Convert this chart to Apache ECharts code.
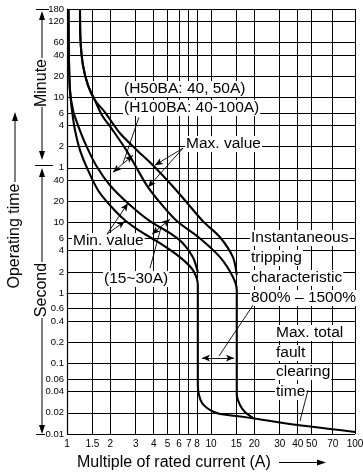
<!DOCTYPE html>
<html><head><meta charset="utf-8">
<script src="https://cdn.jsdelivr.net/npm/echarts@6/dist/echarts.min.js"></script>
<style>html,body{margin:0;padding:0;background:#fff}#c{width:363px;height:474px}</style>
</head><body><div id="c"></div>
<script>
// ---- data ----
const xTickValues = [1,1.5,2,3,4,5,6,7,8,10,15,20,30,40,50,70,100];
const xTickLabels = ['1','1.5','2','3','4','5','6','7','8','10','15','20','30','40','50','70','100'];
const yTickSeconds = [0.01,0.02,0.04,0.06,0.1,0.2,0.4,0.6,1,2,4,6,10,20,40,60,120,240,360,600,1200,2400,3600,7200,10800];
const yTickLabels = ['0.01','0.02','0.04','0.06','0.1','0.2','0.4','0.6','1','2','4','6','10','20','40','1','2','4','6','10','20','40','60','120','180'];

// [multiple of rated current, seconds]
const minCurveA = [[1.024,10800],[1.032,2018],[1.049,757],[1.083,394],[1.137,205],[1.231,107],[1.399,55.6],[1.642,28.9],[1.988,17.7],[2.528,10.8],[3.214,7.57],[4.42,5.12],[6.08,3.24],[7.49,2.12],[8.1,1.3]];
const minCurveB = [[1.024,10800],[1.032,2018],[1.049,757],[1.101,394],[1.192,241],[1.355,126],[1.589,65.5],[1.988,34],[2.651,18.9],[3.768,10.5],[5.19,7.1],[6.38,5.12],[7.49,3.24],[8.1,1.99]];
const maxCurveA = [[1.231,10800],[1.241,3880],[1.291,1714],[1.399,891],[1.564,547],[1.75,335],[2.08,205],[2.58,107],[3.1,56],[3.65,31.9],[4.52,18.3],[5.81,10.5],[8.2,6.22],[11.55,3.24],[14.2,1.69],[15.1,1.1]];
const maxCurveB = [[1.231,10800],[1.241,3880],[1.291,1714],[1.399,891],[1.564,547],[1.836,369],[2.334,186],[3.06,107],[3.95,65.5],[5.19,36.3],[6.59,20.8],[8.79,10.5],[11.55,6.22],[14.2,3.24],[15.1,1.8]];
const minTrip = [[8.1,1.99],[8.1,0.05],[8.25,0.0357],[8.66,0.0275],[9.39,0.0234],[10.47,0.0205],[11.55,0.0192]];
const maxTrip = [[15.1,1.8],[15.1,0.0357],[15.9,0.0258],[17.2,0.0205],[19.6,0.0169]];
const clearingTime = [[11.55,0.0192],[20,0.0166],[40,0.0134],[100,0.0107]];

// ---- annotations (data space) : [from, to, arrowAtStart, arrowAtEnd] ----
const annotations = [
  [[3.16,313],[2.45,69.8],false,false],
  [[2.086,52.0],[2.873,90.6],true,true],
  [[6.39,114],[4.08,65.5],false,true],
  [[6.39,114],[3.65,31.9],false,true],
  [[1.896,6.87],[2.528,10.5],false,true],
  [[1.896,6.87],[2.651,18.9],false,true],
  [[3.77,2.26],[4.50,8.63],false,false],
  [[3.89,6.87],[5.19,11.2],true,true],
  [[19.6,0.676],[11.36,0.128],false,false],
  [[8.66,0.1197],[14.44,0.1197],true,true],
  [[47.2,0.0421],[41.5,0.0153],false,false]
];

const L = Math.log10;
const toLog = arr => arr.map(p => [L(p[0]), L(p[1])]);
const FONT = "'Liberation Sans', Arial, Helvetica, sans-serif";

function curve(name, data) {
  return {type:'line', name, data: toLog(data), showSymbol:false, symbol:'none', smooth:0.3,
    lineStyle:{color:'#000', width:2.1}, z:3, silent:true, animation:false};
}

const texts = [
  ['(H50BA: 40, 50A)', 123, 89],
  ['(H100BA: 40-100A)', 123, 108],
  ['Max. value', 185, 144],
  ['Min. value', 72, 241],
  ['(15~30A)', 103, 279],
  ['Instantaneous', 250, 238], ['tripping', 250, 258], ['characteristic', 250, 278], ['800% \u2013 1500%', 250, 298],
  ['Max. total', 275, 333], ['fault', 275, 353], ['clearing', 275, 372], ['time', 275, 392]
];

function head(x, y, dir) {
  const w = 3, h = 9;
  let pts;
  if (dir === 'up') pts = [[x,y],[x-w,y+h],[x+w,y+h]];
  else if (dir === 'down') pts = [[x,y],[x-w,y-h],[x+w,y-h]];
  else pts = [[x,y],[x-h,y-w],[x-h,y+w]];
  return {type:'polygon', shape:{points:pts}, style:{fill:'#000'}, z:5, silent:true};
}
function seg(x1,y1,x2,y2,w) {
  return {type:'line', shape:{x1,y1,x2,y2}, style:{stroke:'#000', lineWidth:w||1}, z:5, silent:true};
}
function vtext(t, x, y) {
  return {type:'text', x, y, rotation:Math.PI/2, z:5, silent:true,
    style:{text:t, font:'16px ' + FONT, fill:'#000', align:'center', verticalAlign:'middle', textAlign:'center', textVerticalAlign:'middle'}};
}

const graphics = [];
texts.forEach(t => graphics.push({type:'text', x:t[1], y:t[2], z:1, silent:true,
  style:{text:t[0], font:'15.5px ' + FONT, fill:'#000', align:'left', verticalAlign:'middle',
    textAlign:'left', textVerticalAlign:'middle', backgroundColor:'#fff', padding:[0,1]}}));
// brackets
graphics.push(seg(36,9.5,49,9.5), seg(35,165.5,53,165.5), seg(36,434.5,45,434.5));
graphics.push(seg(42,18,42,58), head(42,11,'up'), vtext('Minute',42,83), seg(42,107,42,152), head(42,160,'down'));
graphics.push(seg(42,176,42,262), head(42,168,'up'), vtext('Second',42,290), seg(42,318,42,426), head(42,434,'down'));
graphics.push(seg(15,120,15,182), head(15,112,'up'), vtext('Operating time',15,236));
graphics.push({type:'text', x:77, y:463, z:5, silent:true, style:{text:'Multiple of rated current (A)', font:'16px ' + FONT, fill:'#000', align:'left', verticalAlign:'middle', textAlign:'left', textVerticalAlign:'middle'}});
graphics.push(seg(279,462.5,318,462.5), head(326,462.5,'right'));

const chart = echarts.init(document.getElementById('c'), null, {renderer:'canvas', width:363, height:474});
const option = {
  animation:false,
  backgroundColor:'#fff',
  grid:{left:67, right:8, top:9, bottom:40, containLabel:false, outerBoundsMode:'none'},
  xAxis:{type:'value', min:0, max:2,
    axisLine:{show:true, lineStyle:{color:'#000', width:1.2}},
    axisTick:{show:false, customValues: xTickValues.map(L)},
    splitLine:{show:true, lineStyle:{color:'#000', width:1}},
    axisLabel:{customValues: xTickValues.map(L), margin:5, fontSize:10, fontFamily:FONT, color:'#000', hideOverlap:false, showMinLabel:true, showMaxLabel:true,
      formatter: v => { const i = xTickValues.findIndex(s => Math.abs(L(s)-v) < 1e-6); return i >= 0 ? xTickLabels[i] : ''; }}
  },
  yAxis:{type:'value', min:-2, max:L(10800),
    axisLine:{show:true, lineStyle:{color:'#000', width:1.2}},
    axisTick:{show:false, customValues: yTickSeconds.map(L)},
    splitLine:{show:true, lineStyle:{color:'#000', width:1}},
    axisLabel:{customValues: yTickSeconds.map(L), margin:3, fontSize:9.5, fontFamily:FONT, color:'#000', hideOverlap:false, showMinLabel:true, showMaxLabel:true,
      formatter: v => { const i = yTickSeconds.findIndex(s => Math.abs(L(s)-v) < 1e-6); return i >= 0 ? yTickLabels[i] : ''; }}
  },
  series:[
    curve('minCurveA', minCurveA.concat(minTrip.slice(1))),
    curve('minCurveB', minCurveB),
    curve('maxCurveA', maxCurveA.concat(maxTrip.slice(1))),
    curve('maxCurveB', maxCurveB),
    Object.assign(curve('clearingTime', clearingTime), {
      markLine:{silent:true, animation:false, symbolSize:[5,8], label:{show:false}, emphasis:{disabled:true},
        lineStyle:{color:'#000', width:0.9, type:'solid'},
        data: annotations.map(a => [
          {coord:[L(a[0][0]), L(a[0][1])], symbol: a[2] ? 'arrow' : 'none'},
          {coord:[L(a[1][0]), L(a[1][1])], symbol: a[3] ? 'arrow' : 'none'}
        ])}
    })
  ],
  graphic:{elements: graphics}
};
chart.setOption(option);
</script></body></html>
